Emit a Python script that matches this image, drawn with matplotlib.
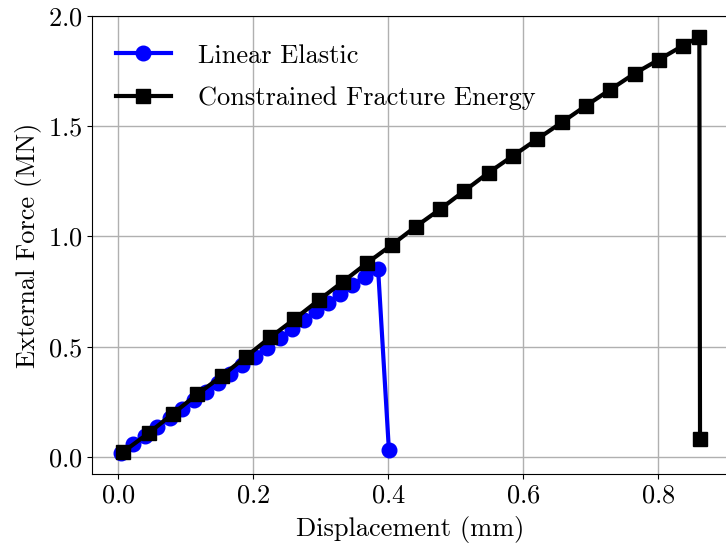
import matplotlib
matplotlib.use('Agg')
import matplotlib.pyplot as plt

plt.rcParams['font.family'] = 'serif'
plt.rcParams['font.serif'] = ['cmr10', 'DejaVu Serif']
plt.rcParams['mathtext.fontset'] = 'cm'
plt.rcParams['axes.formatter.use_mathtext'] = True

# Linear elastic curve (mm, MN)
le_disp = [0.004, 0.022, 0.040, 0.058, 0.076, 0.094, 0.112, 0.130, 0.148,
           0.166, 0.184, 0.202, 0.220, 0.239, 0.257, 0.275, 0.293, 0.311,
           0.329, 0.347, 0.365, 0.385, 0.401]
le_force = [0.017, 0.057, 0.097, 0.137, 0.176, 0.216, 0.256, 0.295, 0.335,
            0.375, 0.415, 0.455, 0.496, 0.538, 0.579, 0.620, 0.660, 0.700,
            0.740, 0.779, 0.818, 0.853, 0.033]

# Constrained fracture energy curve
cfe_disp = [0.007, 0.045, 0.081, 0.117, 0.153, 0.189, 0.225, 0.261, 0.297,
            0.333, 0.368, 0.405, 0.441, 0.477, 0.513, 0.549, 0.585, 0.621,
            0.657, 0.693, 0.729, 0.765, 0.801, 0.837, 0.861, 0.862]
cfe_force = [0.022, 0.108, 0.196, 0.284, 0.366, 0.454, 0.542, 0.625, 0.711,
             0.795, 0.878, 0.961, 1.045, 1.124, 1.207, 1.290, 1.366, 1.442,
             1.517, 1.593, 1.666, 1.739, 1.802, 1.866, 1.905, 0.080]

fig = plt.figure(figsize=(7.26, 5.46), dpi=100)
# the right edge of the axes sits just past the figure edge, as in the original
ax = fig.add_axes([0.1267, 0.1319, 0.8774, 0.8388])

ax.plot(le_disp, le_force, '-o', color='blue', lw=3, markersize=10.5,
        label='Linear Elastic')
ax.plot(cfe_disp, cfe_force, '-s', color='black', lw=3, markersize=10.5,
        label='Constrained Fracture Energy')

ax.set_xticks([0.0, 0.2, 0.4, 0.6, 0.8])
ax.set_yticks([0.0, 0.5, 1.0, 1.5, 2.0])
ax.grid(True, color='#b0b0b0', lw=1)
ax.tick_params(labelsize=19)
ax.set_xlabel('Displacement (mm)', fontsize=19, labelpad=6)
ax.set_ylabel('External Force (MN)', fontsize=19)
ax.legend(loc='upper left', bbox_to_anchor=(0, 0.991), frameon=False,
          fontsize=19, handlelength=2.1, handletextpad=1.0, labelspacing=0.7)

fig.savefig('out.png', dpi=100)
